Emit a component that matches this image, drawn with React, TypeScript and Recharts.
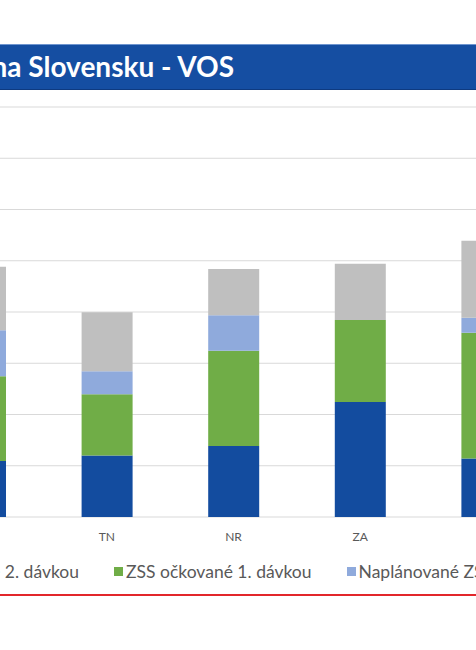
import { Bar, BarChart, CartesianGrid, XAxis, YAxis } from "recharts";

// kraje (viditeľný výrez grafu)
const regions = ["TT", "TN", "NR", "ZA", "BB"];

// hodnoty odčítané z obrázka, stĺpce skladané zdola nahor
const dose2 = [1094, 1199, 1387, 2246, 1141];
const dose1 = [1654, 1197, 1855, 1596, 2453];
const planned = [898, 449, 697, 0, 293];
const rest = [1236, 1152, 898, 1100, 1504];

const yTicks = [0, 1000, 2000, 3000, 4000, 5000, 6000, 7000, 8000];

const seriesKeys = ["dose2", "dose1", "planned", "rest"];
const seriesNames = [
  "ZSS očkované 2. dávkou",
  "ZSS očkované 1. dávkou",
  "Naplánované ZSS",
  "Ostatné ZSS",
];
const seriesColors = ["#134c9f", "#70ad47", "#8faadc", "#bfbfbf"];

const data = regions.map((region, i) => ({
  region,
  dose2: dose2[i],
  dose1: dose1[i],
  planned: planned[i],
  rest: rest[i],
}));

const FONT = "Lato, 'Noto Sans', sans-serif";

function LegendItem({ name, color }: { name: string; color: string }) {
  return (
    <span style={{ display: "flex", alignItems: "center", whiteSpace: "nowrap" }}>
      <span style={{ width: 9, height: 9, background: color, marginRight: 3 }} />
      {name}
    </span>
  );
}

export default function App() {
  return (
    <div
      style={{
        position: "absolute",
        left: 0,
        top: 0,
        width: 476,
        height: 650,
        overflow: "hidden",
        background: "#ffffff",
        fontFamily: FONT,
      }}
    >
      {/* titulok */}
      <div
        style={{
          position: "absolute",
          left: -2,
          top: 44,
          width: 480,
          height: 44,
          background: "#154ea2",
          borderTop: "1px solid #6f95cf",
          borderBottom: "1px solid #0e3a80",
        }}
      />
      <span
        style={{
          position: "absolute",
          right: 242,
          top: 47,
          color: "#ffffff",
          fontWeight: 700,
          fontSize: 28,
          lineHeight: "38px",
          whiteSpace: "nowrap",
        }}
      >
        na Slovensku - VOS
      </span>

      <div style={{ position: "absolute", left: -100, top: 100 }}>
        <BarChart
          width={660}
          height={447}
          data={data}
          margin={{ top: 7, right: 10, left: 17, bottom: 0 }}
        >
          <CartesianGrid stroke="#d9d9d9" vertical={false} />
          <XAxis
            dataKey="region"
            height={30}
            axisLine={false}
            tickLine={false}
            tickMargin={9}
            tick={{ fill: "#595959", fontSize: 12, fontFamily: FONT }}
          />
          <YAxis hide domain={[0, 8000]} ticks={yTicks} />
          {seriesKeys.map((key, i) => (
            <Bar
              key={key}
              dataKey={key}
              name={seriesNames[i]}
              stackId="zss"
              fill={seriesColors[i]}
              barSize={51}
              isAnimationActive={false}
            />
          ))}
        </BarChart>
      </div>

      {/* legenda */}
      <div
        style={{
          position: "absolute",
          left: 114,
          top: 561,
          height: 20,
          display: "flex",
          alignItems: "center",
          gap: 35,
          fontSize: 17.5,
          color: "#595959",
        }}
      >
        <span style={{ position: "absolute", right: "100%", paddingRight: 35 }}>
          <LegendItem name={seriesNames[0]} color={seriesColors[0]} />
        </span>
        {seriesNames.slice(1).map((name, i) => (
          <LegendItem key={name} name={name} color={seriesColors[i + 1]} />
        ))}
      </div>

      {/* červená linka */}
      <div
        style={{
          position: "absolute",
          left: 0,
          top: 594,
          width: 476,
          height: 2,
          background: "#e2262b",
        }}
      />
    </div>
  );
}
